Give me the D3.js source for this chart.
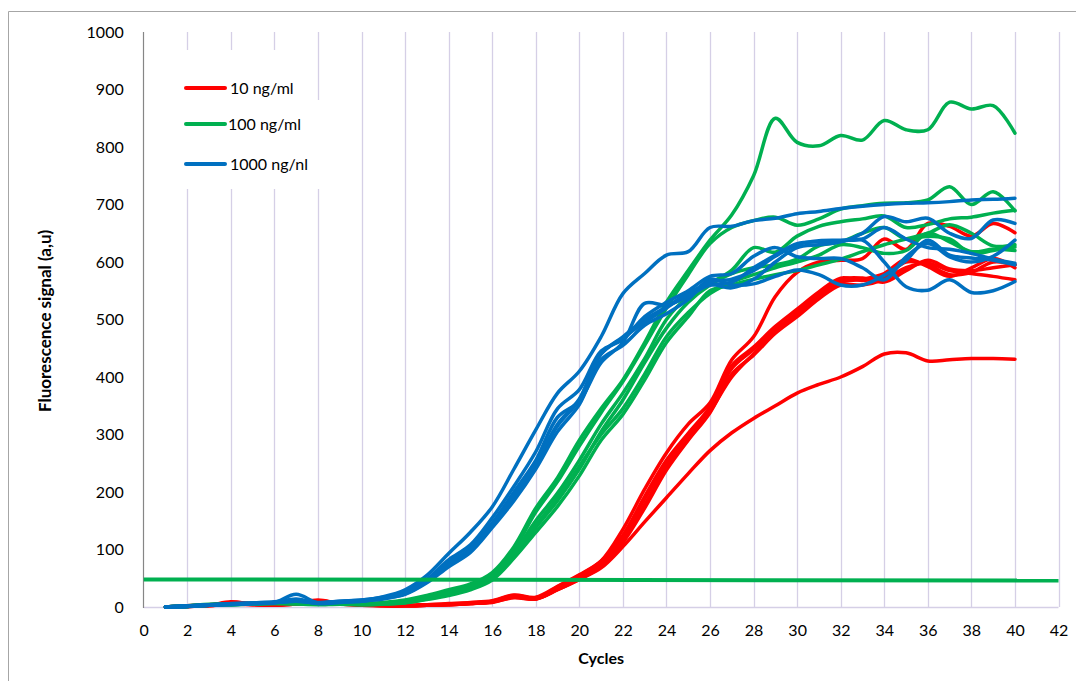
<!DOCTYPE html>
<html>
<head>
<meta charset="utf-8">
<script src="https://cdn.jsdelivr.net/npm/d3@7"></script>
<style>
  body { margin: 0; background: #fff; }
  svg text { font-family: Lato, "Liberation Sans", sans-serif; fill: #000; }
</style>
</head>
<body>
<div id="chart"></div>
<script>
// cycle numbers (x values of every curve)
const cycles = [1,2,3,4,5,6,7,8,9,10,11,12,13,14,15,16,17,18,19,20,
                21,22,23,24,25,26,27,28,29,30,31,32,33,34,35,36,37,38,39,40];

// 10 ng/ml replicates
const red1 = [0,1,3,9,5,4,6,12,6,4, 3,3,4,5,7,10,20,16,35,55, 80,135,205,268,318,355,430,470,540,582, 600,603,606,640,622,667,662,645,667,651];
const red2 = [0,2,4,6,5,3,5,9,5,3, 2,2,3,4,6,9,18,15,32,52, 75,122,188,250,300,345,415,448,482,512, 545,570,572,565,585,603,588,585,590,595];
const red3 = [0,1,2,7,4,4,6,10,7,4, 3,2,3,5,6,9,19,14,30,48, 70,112,172,238,290,338,405,438,476,505, 536,560,560,570,590,598,585,580,575,569];
const red4 = [0,1,3,8,6,4,5,11,6,5, 3,3,4,6,8,11,21,17,36,56, 80,125,192,255,302,348,420,452,488,518, 548,572,568,575,600,595,578,582,600,595];
const red5 = [0,2,3,6,5,4,6,10,6,4, 2,2,3,4,6,8,17,14,31,50, 72,116,178,242,292,340,400,440,478,508, 540,565,570,580,605,592,575,590,606,590];
const red6 = [0,1,2,5,4,3,5,8,5,3, 2,2,3,4,6,9,16,14,30,48, 68,105,148,190,232,272,303,328,350,372, 387,400,418,440,442,428,430,432,432,431];

// 100 ng/ml replicates
const green1 = [0,2,5,5,6,8,7,6,8,6, 8,12,20,30,40,60,105,172,225,290, 345,395,460,530,585,638,682,750,850,808, 802,820,812,846,830,830,878,866,872,824];
const green2 = [0,1,4,5,6,7,8,6,7,5, 7,10,18,28,38,58,100,165,218,280, 338,392,455,520,578,632,660,672,678,664, 675,692,698,702,703,708,731,700,722,689];
const green3 = [0,2,4,4,5,7,6,5,6,5, 6,9,16,25,35,55,95,150,198,255, 318,372,432,500,540,563,586,625,617,645, 662,670,675,680,660,665,675,678,685,690];
const green4 = [0,1,3,4,5,6,6,5,6,4, 5,8,14,22,32,50,88,138,185,240, 305,360,425,485,530,560,580,590,595,605, 628,635,650,660,640,645,640,615,620,626];
const green5 = [0,2,3,5,6,7,7,5,6,5, 6,8,15,25,34,52,92,142,190,245, 300,345,405,470,512,545,565,578,590,600, 612,630,625,615,620,650,635,618,622,620];
const green6 = [0,1,3,4,5,6,5,4,5,4, 5,7,13,20,30,47,85,130,175,228, 290,335,395,460,505,550,560,570,578,585, 595,605,618,630,640,650,665,650,628,630];

// 1000 ng/nl replicates
const blue1 = [0,1,3,4,6,8,10,8,10,12, 18,30,55,93,130,174,240,308,372,410, 470,545,580,612,618,660,662,672,676,684, 688,693,697,700,702,703,705,708,709,711];
const blue2 = [0,2,3,5,6,8,22,7,8,11, 16,25,45,76,100,145,190,245,315,360, 440,470,500,522,545,560,565,590,612,632, 635,636,638,600,557,551,569,547,550,566];
const blue3 = [0,1,4,5,7,9,12,6,9,10, 15,22,42,70,95,138,185,240,305,352, 430,455,490,510,535,570,560,562,575,586, 578,560,560,577,603,638,612,607,603,595];
const blue4 = [0,2,3,6,7,8,14,7,10,12, 17,26,48,82,108,155,210,270,345,378, 445,465,505,530,550,575,580,610,625,609, 606,606,590,569,609,632,609,600,610,638];
const blue5 = [0,1,3,5,6,7,11,6,9,11, 14,23,44,74,102,146,200,255,330,358, 425,460,528,525,540,560,555,570,600,625, 630,635,650,679,670,676,650,641,673,667];
const blue6 = [0,2,4,5,6,8,10,7,9,10, 16,24,46,78,100,142,195,250,318,362, 440,468,495,520,545,565,570,585,610,630, 637,638,640,660,640,625,622,615,605,598];

// threshold line
const thresholdCycles = [0, 42];
const thresholdValues = [48, 46];

const xTicks = [0,2,4,6,8,10,12,14,16,18,20,22,24,26,28,30,32,34,36,38,40,42];
const yTicks = [0,100,200,300,400,500,600,700,800,900,1000];

const legendNames = ["10 ng/ml", "100 ng/ml", "1000 ng/nl"];
const colors = ["#ff0000", "#00b050", "#0070c0"];

const groups = [
  {color: colors[0], series: [red1, red2, red3, red4, red5, red6]},
  {color: colors[1], series: [green1, green2, green3, green4, green5, green6]},
  {color: colors[2], series: [blue1, blue2, blue3, blue4, blue5, blue6]}
];

const W = 1076, H = 681;
const svg = d3.select("#chart").append("svg")
    .attr("width", W)
    .attr("height", H);

// outer frame (left and top edges visible)
svg.append("path")
    .attr("d", "M8.5,681V11.5H1076")
    .attr("fill", "none")
    .attr("stroke", "#a6a6a6")
    .attr("stroke-width", 1);

const x = d3.scaleLinear().domain([0, 42]).range([143.7, 1058.5]);
const y = d3.scaleLinear().domain([0, 1000]).range([607, 32]);

// vertical gridlines
svg.append("g").selectAll("line")
    .data(xTicks.filter(function(d) { return d > 0; }))
    .enter().append("line")
    .attr("x1", function(d) { return Math.round(x(d)) + 0.5; })
    .attr("x2", function(d) { return Math.round(x(d)) + 0.5; })
    .attr("y1", y(1000))
    .attr("y2", y(0))
    .attr("stroke", "#d5cfe6")
    .attr("stroke-width", 1.3);

// bottom axis line
svg.append("line")
    .attr("x1", x(0)).attr("x2", x(42))
    .attr("y1", y(0) + 0.5).attr("y2", y(0) + 0.5)
    .attr("stroke", "#d5cfe6")
    .attr("stroke-width", 1.3);

// left axis line
svg.append("line")
    .attr("x1", Math.round(x(0)) - 0.5).attr("x2", Math.round(x(0)) - 0.5)
    .attr("y1", y(1000)).attr("y2", y(0) + 1)
    .attr("stroke", "#868686")
    .attr("stroke-width", 1.2);

// axes labels
const xAxis = d3.axisBottom(x).tickValues(xTicks).tickSize(0).tickPadding(18)
    .tickFormat(d3.format("d"));
const yAxis = d3.axisLeft(y).tickValues(yTicks).tickSize(0).tickPadding(20)
    .tickFormat(d3.format("d"));

svg.append("g")
    .attr("transform", "translate(0," + y(0) + ")")
    .call(xAxis)
    .call(function(g) { g.select(".domain").remove(); })
    .selectAll("text")
    .style("font-size", "16px")
    .style("font-family", "Lato, sans-serif")
    .attr("fill", "#000");

svg.append("g")
    .attr("transform", "translate(" + x(0) + ",0)")
    .call(yAxis)
    .call(function(g) { g.select(".domain").remove(); })
    .selectAll("text")
    .style("font-size", "16px")
    .style("font-family", "Lato, sans-serif")
    .attr("fill", "#000");

// legend background hides the gridlines behind it
svg.append("rect")
    .attr("x", 150).attr("y", 50).attr("width", 164).attr("height", 139)
    .attr("fill", "#fff");
svg.append("rect")
    .attr("x", 300).attr("y", 100).attr("width", 20).attr("height", 89)
    .attr("fill", "#fff");

const line = d3.line()
    .x(function(d, i) { return x(cycles[i]); })
    .y(function(d) { return y(d); })
    .curve(d3.curveCatmullRom.alpha(0.5));

groups.forEach(function(gr) {
  svg.append("g").selectAll("path")
      .data(gr.series)
      .enter().append("path")
      .attr("d", line)
      .attr("fill", "none")
      .attr("stroke", gr.color)
      .attr("stroke-width", 3.5)
      .attr("stroke-linejoin", "round")
      .attr("stroke-linecap", "round");
});

// threshold
const tline = d3.line()
    .x(function(d, i) { return x(thresholdCycles[i]); })
    .y(function(d) { return y(d); });
svg.append("path")
    .attr("d", tline(thresholdValues))
    .attr("fill", "none")
    .attr("stroke", colors[1])
    .attr("stroke-width", 4);

// legend
const legendY = [88, 124, 164];
const legend = svg.append("g");
legendNames.forEach(function(name, i) {
  legend.append("line")
      .attr("x1", 186).attr("x2", 225)
      .attr("y1", legendY[i]).attr("y2", legendY[i])
      .attr("stroke", colors[i])
      .attr("stroke-width", 4)
      .attr("stroke-linecap", "round");
  legend.append("text")
      .attr("x", i === 1 ? 228 : 230)
      .attr("y", legendY[i])
      .attr("dy", "0.35em")
      .style("font-size", "16px")
      .text(name);
});

// axis titles
svg.append("text")
    .attr("x", (x(0) + x(42)) / 2)
    .attr("y", 664)
    .attr("text-anchor", "middle")
    .style("font-size", "16px")
    .style("font-weight", "bold")
    .text("Cycles");

svg.append("text")
    .attr("transform", "translate(51,321) rotate(-90)")
    .attr("text-anchor", "middle")
    .style("font-size", "17px")
    .style("font-weight", "bold")
    .text("Fluorescence signal (a,u)");
</script>
</body>
</html>
